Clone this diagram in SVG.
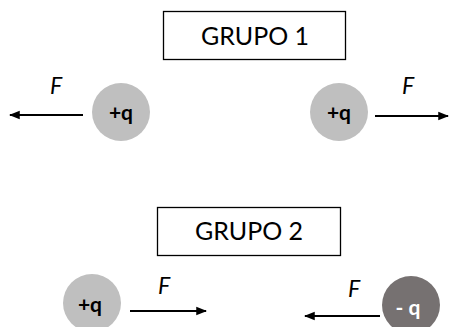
<svg xmlns="http://www.w3.org/2000/svg" width="449" height="327" viewBox="0 0 449 327">
<style>
.box{fill:#fff;stroke:#000;stroke-width:1.3}
.title{font-family:Lato,"Open Sans",sans-serif;font-size:25px;fill:#000;text-anchor:middle}
.light{fill:#bfbfbf}
.dark{fill:#767171}
.q{font-family:Lato,"Liberation Sans",sans-serif;font-size:21px;font-weight:bold;text-anchor:middle}
.f{font-family:Lato,"Open Sans",sans-serif;font-size:23px;font-style:italic;fill:#000}
.arr{stroke:#000;stroke-width:1.8;fill:none;marker-end:url(#ah)}
</style>
<defs>
<marker id="ah" viewBox="0 0 10 10" refX="9" refY="5" markerWidth="6" markerHeight="6" orient="auto" markerUnits="strokeWidth">
<path d="M0,1 L10,5 L0,9 Z" fill="#000"/>
</marker>
</defs>
<rect width="449" height="327" fill="#fff"/>
<g id="grupo1">
<rect class="box" x="163.5" y="11.5" width="182" height="48"/>
<text class="title" x="255" y="44.5">GRUPO 1</text>
</g>
<g id="g1-left">
<circle class="light" cx="121" cy="112" r="29"/>
<text class="q" x="121" y="120">+q</text>
</g>
<g id="g1-right">
<circle class="light" cx="339" cy="112" r="29"/>
<text class="q" x="339" y="120">+q</text>
</g>
<g id="grupo2">
<rect class="box" x="157.5" y="207.5" width="183" height="48"/>
<text class="title" x="249" y="240">GRUPO 2</text>
</g>
<g id="g2-left">
<circle class="light" cx="92" cy="303" r="29"/>
<text class="q" x="90" y="312">+q</text>
</g>
<g id="g2-right">
<circle class="dark" cx="411" cy="305" r="29"/>
<text class="q" x="408" y="315" fill="#fff">- q</text>
</g>
<g id="connectors">
<line class="arr" x1="83" y1="115" x2="10" y2="115"/>
<text class="f" x="50" y="94">F</text>
<line class="arr" x1="375" y1="116" x2="448" y2="116"/>
<text class="f" x="402" y="94">F</text>
<line class="arr" x1="130" y1="311" x2="206" y2="311"/>
<text class="f" x="158" y="294">F</text>
<line class="arr" x1="380" y1="316" x2="305" y2="316"/>
<text class="f" x="348" y="297">F</text>
</g>
</svg>
